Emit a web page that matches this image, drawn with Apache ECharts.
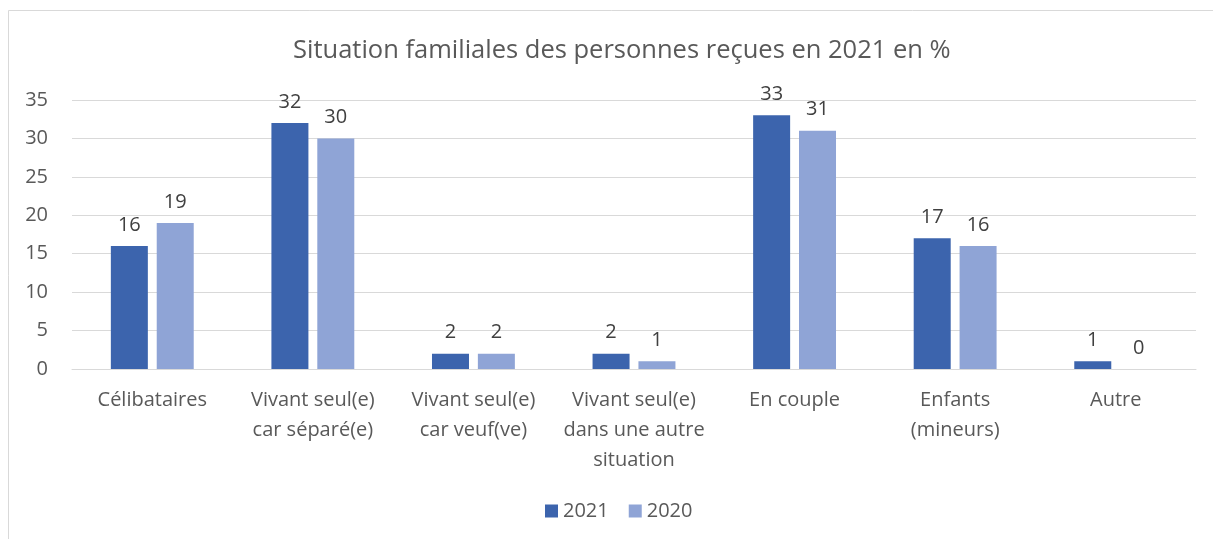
<!DOCTYPE html>
<html>
<head>
<meta charset="utf-8">
<script src="https://cdn.jsdelivr.net/npm/echarts@6/dist/echarts.min.js"></script>
<style>html,body{margin:0;padding:0;background:#fff}#c{width:1213px;height:539px}</style>
</head>
<body>
<div id="c"></div>
<script>
const categories = ["Célibataires", "Vivant seul(e)\ncar séparé(e)", "Vivant seul(e)\ncar veuf(ve)", "Vivant seul(e)\ndans une autre\nsituation", "En couple", "Enfants\n(mineurs)", "Autre"];
const values2021 = [16, 32, 2, 2, 33, 17, 1];
const values2020 = [19, 30, 2, 1, 31, 16, 0];
const seriesNames = ["2021", "2020"];
const titleText = "Situation familiales des personnes reçues en 2021 en %";

const FONT = "'Open Sans', sans-serif";
const chart = echarts.init(document.getElementById('c'), null, {renderer: 'canvas'});
const labelCfg = {show: true, position: 'top', distance: 11, color: '#404040', fontSize: 20, fontFamily: FONT};
chart.setOption({
  animation: false,
  backgroundColor: '#fff',
  graphic: [{
    type: 'rect', silent: true,
    shape: {x: 8.5, y: 10.5, width: 1400, height: 800},
    style: {fill: 'none', stroke: '#D9D9D9', lineWidth: 1}
  }],
  title: {
    text: titleText, left: 288, top: 33,
    textStyle: {color: '#595959', fontSize: 25.5, fontWeight: 'normal', fontFamily: FONT}
  },
  legend: {
    data: seriesNames, bottom: 13, left: 540,
    itemWidth: 13, itemHeight: 13, itemGap: 20, icon: 'rect',
    textStyle: {color: '#595959', fontSize: 20, fontFamily: FONT}
  },
  grid: {left: 72, right: 17, top: 100, bottom: 170, containLabel: false},
  xAxis: {
    type: 'category', data: categories,
    axisLine: {show: true, lineStyle: {color: '#D9D9D9', width: 1}},
    axisTick: {show: false},
    axisLabel: {color: '#595959', fontSize: 20, fontFamily: FONT, lineHeight: 30, margin: 16, interval: 0}
  },
  yAxis: {
    type: 'value', min: 0, max: 35, interval: 5,
    axisLine: {show: false}, axisTick: {show: false},
    splitLine: {lineStyle: {color: '#D9D9D9', width: 1}},
    axisLabel: {color: '#595959', fontSize: 20, fontFamily: FONT, margin: 24}
  },
  series: [
    {name: seriesNames[0], type: 'bar', data: values2021, barWidth: 37, barGap: '24%', itemStyle: {color: '#3C64AD'}, label: labelCfg},
    {name: seriesNames[1], type: 'bar', data: values2020, barWidth: 37, itemStyle: {color: '#8FA4D6'}, label: labelCfg}
  ]
});
</script>
</body>
</html>
